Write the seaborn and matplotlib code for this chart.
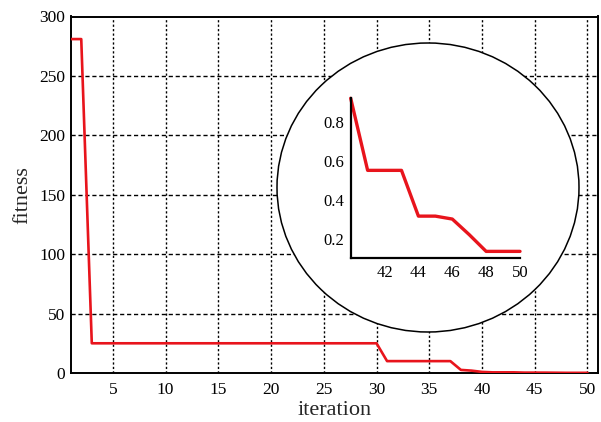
import matplotlib
matplotlib.use("Agg")
import matplotlib.pyplot as plt
import seaborn as sns
import pandas as pd
from matplotlib.patches import Ellipse

# ---- data ----
iterations = list(range(1, 51))
fitness = ([281, 281] + [25] * 28 + [10] * 7 + [2.6, 2.0] +
           [0.92, 0.55, 0.55, 0.55, 0.315, 0.315, 0.30, 0.22, 0.134, 0.134, 0.134])
inset_iter = list(range(40, 51))
inset_fit = [0.92, 0.55, 0.55, 0.55, 0.315, 0.315, 0.30, 0.22, 0.134, 0.134, 0.134]

x_ticks = [5, 10, 15, 20, 25, 30, 35, 40, 45, 50]
y_ticks = [0, 50, 100, 150, 200, 250, 300]
inset_x_ticks = [42, 44, 46, 48, 50]
inset_y_ticks = [0.2, 0.4, 0.6, 0.8]

sns.set_theme(style="white")
plt.rcParams['font.family'] = ['Liberation Serif', 'DejaVu Serif']

W, H = 601, 422
fig = plt.figure(figsize=(W / 100, H / 100), dpi=100)

ax = fig.add_axes([70.7 / W, 1 - 373 / H, (598 - 70.7) / W, (373 - 16.5) / H])
df = pd.DataFrame({"iteration": iterations, "fitness": fitness})
sns.lineplot(data=df, x="iteration", y="fitness", ax=ax, color="#e8141c",
             linewidth=1.9, zorder=4)
ax.set_xlim(1, 51)
ax.set_ylim(0, 300)
ax.set_xticks(x_ticks)
ax.set_yticks(y_ticks)
ax.tick_params(length=0, labelsize=12.5, colors="black")
ax.tick_params(axis="x", pad=6.5)
ax.tick_params(axis="y", pad=4)
for v in x_ticks:
    ax.axvline(v, color="black", lw=1.0, dashes=(1.6, 1.6), zorder=1)
for v in y_ticks[1:]:
    ax.axhline(v, color="black", lw=1.0, dashes=(3, 2), zorder=1)
for s in ax.spines.values():
    s.set_color("black")
    s.set_linewidth(1.4)
ax.set_xlabel("iteration", fontsize=16, labelpad=2)
ax.set_ylabel("fitness", fontsize=16, labelpad=5)

# circle (magnifier)
circ = Ellipse((428 / W, 1 - 187.5 / H), 302 / W, 289 / H, transform=fig.transFigure,
               facecolor="white", edgecolor="black", lw=1.1, zorder=3)
ax.add_patch(circ)

# inset
axi = fig.add_axes([350.7 / W, 1 - 258 / H, (520 - 350.7) / W, (258 - 98.3) / H])
axi.patch.set_alpha(0)
dfi = pd.DataFrame({"iteration": inset_iter, "fitness": inset_fit})
sns.lineplot(data=dfi, x="iteration", y="fitness", ax=axi, color="#e8141c",
             linewidth=2.4, clip_on=False)
axi.set_xlim(40, 50)
axi.set_ylim(0.1, 0.92)
axi.set_xticks(inset_x_ticks)
axi.set_yticks(inset_y_ticks)
axi.set_yticklabels([f"{v:.1f}" for v in inset_y_ticks])
axi.tick_params(length=0, labelsize=12, colors="black", pad=5)
axi.spines["top"].set_visible(False)
axi.spines["right"].set_visible(False)
for s in ("left", "bottom"):
    axi.spines[s].set_color("black")
    axi.spines[s].set_linewidth(1.6)
axi.set_xlabel("")
axi.set_ylabel("")

fig.savefig("out.png", dpi=100)
